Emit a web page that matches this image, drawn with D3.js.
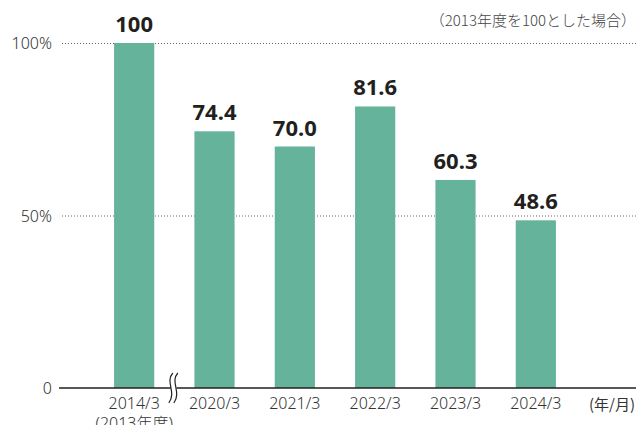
<!DOCTYPE html>
<html>
<head>
<meta charset="utf-8">
<script src="https://cdn.jsdelivr.net/npm/d3@7"></script>
<style>
  body { margin: 0; background: #fff; }
  text { font-family: "Noto Sans", "Noto Sans CJK JP", sans-serif; }
</style>
</head>
<body>
<div class="chart"></div>
<script>
const width = 638,
    height = 425;

// data
const categories = ["2014/3", "2020/3", "2021/3", "2022/3", "2023/3", "2024/3"];
const values = [100, 74.4, 70.0, 81.6, 60.3, 48.6];
const valueLabels = ["100", "74.4", "70.0", "81.6", "60.3", "48.6"];
const yTicks = [0, 50, 100];
const yTickLabels = ["0", "50%", "100%"];

const barColor = "#64b39a";

const xScale = d3.scaleBand()
    .domain(categories)
    .range([94, 576])
    .paddingInner(0.5)
    .paddingOuter(0.25);

const yScale = d3.scaleLinear()
    .domain([0, 100])
    .range([388, 43]);

const svg = d3.select(".chart")
    .append("svg")
    .attr("width", width)
    .attr("height", height);

// dotted gridlines
svg.selectAll(".grid")
    .data(yTicks.filter(d => d > 0))
    .join("line")
    .attr("class", "grid")
    .attr("x1", 62)
    .attr("x2", 637)
    .attr("y1", d => yScale(d) + 0.5)
    .attr("y2", d => yScale(d) + 0.5)
    .attr("stroke", "#666")
    .attr("stroke-width", 1)
    .attr("stroke-dasharray", "1,2");

// y tick labels
svg.selectAll(".ytick")
    .data(yTicks)
    .join("text")
    .attr("class", "ytick")
    .attr("x", 52)
    .attr("y", d => yScale(d) + 6)
    .attr("text-anchor", "end")
    .attr("font-size", 16)
    .attr("font-weight", 300)
    .attr("fill", "#333")
    .text((d, i) => yTickLabels[i]);

// bars
svg.selectAll(".bar")
    .data(values)
    .join("rect")
    .attr("class", "bar")
    .attr("x", (d, i) => xScale(categories[i]))
    .attr("width", xScale.bandwidth())
    .attr("y", d => yScale(d))
    .attr("height", d => yScale(0) - yScale(d))
    .attr("fill", barColor);

// value labels
svg.selectAll(".val")
    .data(values)
    .join("text")
    .attr("class", "val")
    .attr("x", (d, i) => xScale(categories[i]) + xScale.bandwidth() / 2)
    .attr("y", d => yScale(d) - 11)
    .attr("text-anchor", "middle")
    .attr("font-size", 22)
    .attr("font-weight", 700)
    .attr("fill", "#231f20")
    .text((d, i) => valueLabels[i]);

// baseline
svg.append("line")
    .attr("x1", 59)
    .attr("x2", 636)
    .attr("y1", yScale(0))
    .attr("y2", yScale(0))
    .attr("stroke", "#231f20")
    .attr("stroke-width", 1.5);

// category labels
svg.selectAll(".cat")
    .data(categories)
    .join("text")
    .attr("class", "cat")
    .attr("x", d => xScale(d) + xScale.bandwidth() / 2)
    .attr("y", 409)
    .attr("text-anchor", "middle")
    .attr("font-size", 16)
    .attr("font-weight", 300)
    .attr("fill", "#333")
    .text(d => d);

svg.append("text")
    .attr("x", xScale(categories[0]) + xScale.bandwidth() / 2)
    .attr("y", 429)
    .attr("text-anchor", "middle")
    .attr("font-size", 16)
    .attr("font-weight", 300)
    .attr("fill", "#333")
    .text("(2013年度)");

svg.append("text")
    .attr("x", 635)
    .attr("y", 410)
    .attr("text-anchor", "end")
    .attr("font-size", 15)
    .attr("fill", "#333")
    .style("font-family", "'Noto Sans CJK JP', sans-serif")
    .text("(年/月)");

// note
svg.append("text")
    .attr("x", 636)
    .attr("y", 26)
    .attr("text-anchor", "end")
    .attr("font-size", 15)
    .attr("font-weight", 300)
    .attr("fill", "#444")
    .style("font-family", "'Noto Sans CJK JP', sans-serif")
    .text("（2013年度を100とした場合）");

// axis break mark between first and second bar
const bx = (xScale(categories[0]) + xScale.bandwidth() + xScale(categories[1])) / 2 - 1;
const by = yScale(0);
const wave = (dx) => `M${bx + dx + 2},${by - 15} C${bx + dx - 6},${by - 6} ${bx + dx + 6},${by + 4} ${bx + dx - 2},${by + 15}`;
svg.append("path")
    .attr("d", `${wave(-2.5)} L${bx + 4.5},${by + 15} C${bx + 8.5},${by + 4} ${bx - 3.5},${by - 6} ${bx + 4.5},${by - 15} Z`)
    .attr("fill", "#fff")
    .attr("stroke", "none");
[-2.5, 2.5].forEach(dx => {
    svg.append("path")
        .attr("d", wave(dx))
        .attr("fill", "none")
        .attr("stroke", "#231f20")
        .attr("stroke-width", 1.2);
});
</script>
</body>
</html>
